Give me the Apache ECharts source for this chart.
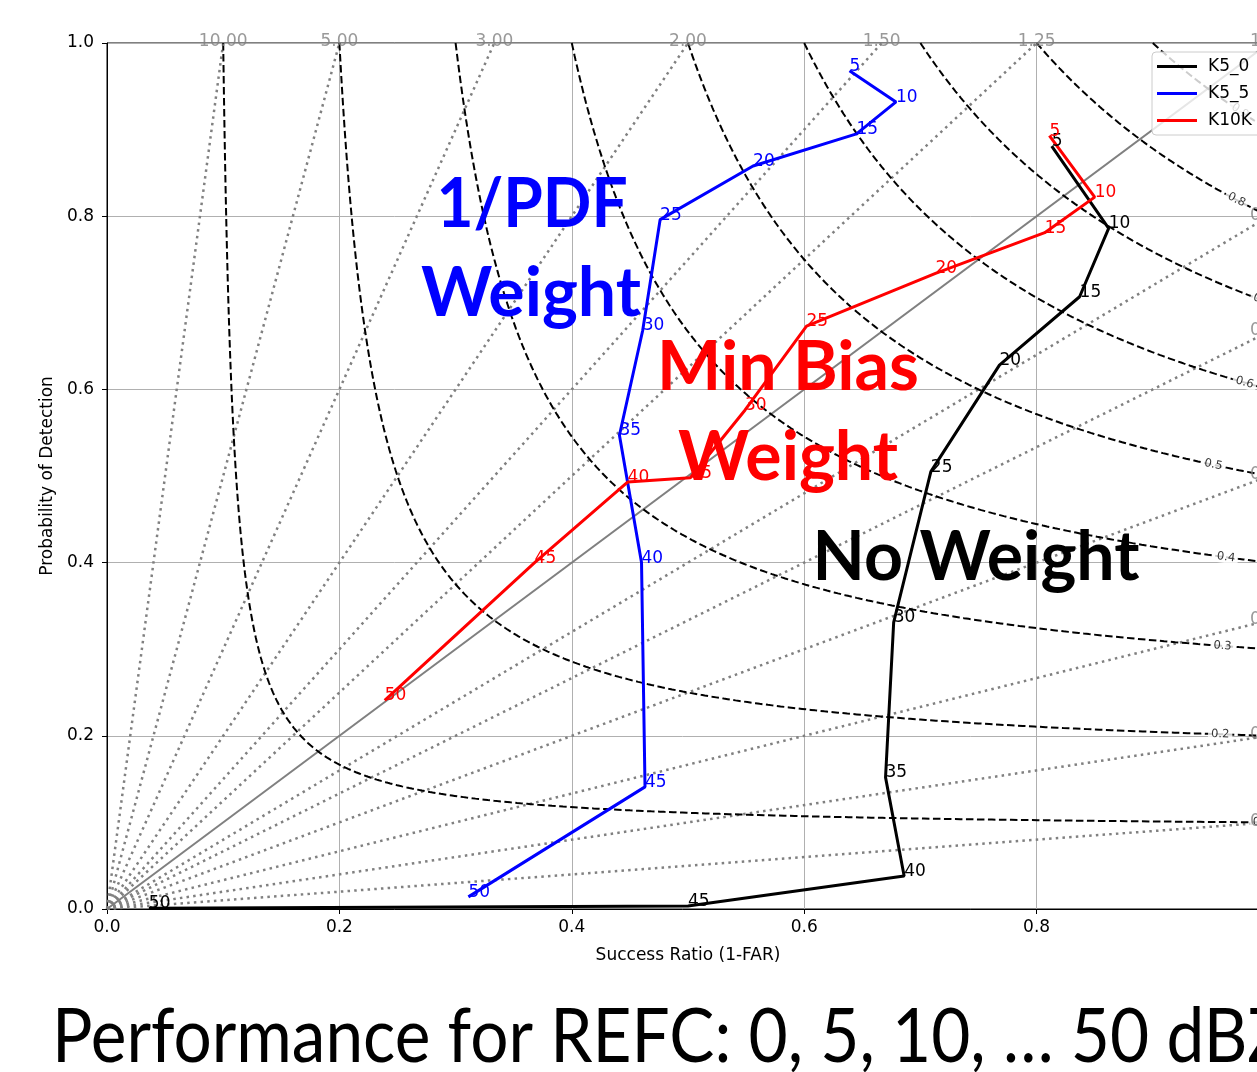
<!DOCTYPE html>
<html><head><meta charset="utf-8">
<script src="https://cdn.jsdelivr.net/npm/echarts@6/dist/echarts.min.js"></script>
<style>html,body{margin:0;padding:0;background:#fff}#c{width:1257px;height:1072px}</style>
</head><body><div id="c"></div>
<script>
// ---- data ----
const thresholds = [5, 10, 15, 20, 25, 30, 35, 40, 45, 50];
const k5_0_sr  = [0.813, 0.862, 0.837, 0.768, 0.709, 0.677, 0.670, 0.686, 0.500, 0.036];
const k5_0_pod = [0.881, 0.786, 0.707, 0.628, 0.505, 0.331, 0.152, 0.038, 0.0035, 0.001];
const k5_5_sr  = [0.639, 0.679, 0.645, 0.556, 0.476, 0.461, 0.441, 0.460, 0.463, 0.311];
const k5_5_pod = [0.968, 0.932, 0.895, 0.858, 0.796, 0.668, 0.547, 0.400, 0.141, 0.014];
const k10k_sr  = [0.811, 0.850, 0.807, 0.713, 0.602, 0.549, 0.502, 0.448, 0.368, 0.239];
const k10k_pod = [0.893, 0.822, 0.781, 0.734, 0.673, 0.576, 0.498, 0.493, 0.400, 0.241];
const seriesNames = ['K5_0', 'K5_5', 'K10K'];
const biasLevels = [0.1, 0.2, 1/3, 0.5, 2/3, 0.8, 1, 1.25, 1.5, 2, 3, 5, 10];
const biasLabels = ['0.10', '0.20', '0.33', '0.50', '0.67', '0.80', '1.00', '1.25', '1.50', '2.00', '3.00', '5.00', '10.00'];
const csiLevels = [0.1, 0.2, 0.3, 0.4, 0.5, 0.6, 0.7, 0.8, 0.9];
const csiLabels = ['0.1', '0.2', '0.3', '0.4', '0.5', '0.6', '0.7', '0.8', '0.9'];
const csiLabelSR = [0.994, 0.958, 0.960, 0.963, 0.952, 0.979, 0.994, 0.972, 0.975];
const axisTickValues = [0, 0.2, 0.4, 0.6, 0.8, 1.0];
const titleText = 'Performance for REFC: 0, 5, 10, \u2026 50 dBZ';

// ---- helpers ----
const FONT = 'DejaVu Sans';
const GRID = {left: 107, top: 43, width: 1162, height: 866};
function csiPod(c, s) { return 1 / (1 / c + 1 - 1 / s); }
function csiCurve(c) {
  const pts = [];
  const n = 400;
  for (let i = 0; i <= n; i++) {
    const t = i / n;
    const s = c + (1 - c) * t * t * t;
    pts.push([s, Math.min(1, csiPod(c, s))]);
  }
  return pts;
}
function zip(a, b) { return a.map((v, i) => [v, b[i]]); }

const series = [];
// bias lines
biasLevels.forEach((b, i) => {
  const end = b <= 1 ? [1, b] : [1 / b, 1];
  series.push({
    type: 'line', data: [[0, 0], end], symbol: 'none', silent: true, z: 1,
    lineStyle: b === 1 ? {color: '#808080', width: 2, type: 'solid'}
                       : {color: '#808080', width: 2.5, type: [2.5, 4.2]},
    animation: false
  });
});
// bias labels
series.push({
  type: 'scatter', symbolSize: 0, silent: true, z: 4,
  data: biasLevels.map((b, i) => ({value: b <= 1 ? [1, b] : [1 / b, 1], name: biasLabels[i]})),
  label: {show: true, position: 'inside', formatter: p => p.name, color: '#808080', fontSize: 17, fontFamily: FONT, offset: [0, -1]},
  clip: false
});
// csi contours
csiLevels.forEach(c => {
  series.push({
    type: 'line', data: csiCurve(c), symbol: 'none', silent: true, z: 1,
    lineStyle: {color: '#000', width: 2, type: [7.5, 3.5]}, animation: false
  });
});
// csi labels
series.push({
  type: 'scatter', symbolSize: 0, silent: true, z: 2,
  data: csiLevels.map((c, i) => {
    const s = csiLabelSR[i];
    const p = csiPod(c, s);
    const slope = -(p * p) / (s * s) * (GRID.height / GRID.width);
    return {
      value: [s, p], name: csiLabels[i],
      label: {rotate: Math.atan(slope) * 180 / Math.PI}
    };
  }),
  label: {show: true, position: 'inside', formatter: p => p.name, color: '#000', fontSize: 11.5, fontFamily: FONT,
          backgroundColor: '#fff', padding: [0, 3]},
  clip: false
});
// data series
const colors = ['#000000', '#0000ff', '#ff0000'];
[[k5_0_sr, k5_0_pod], [k5_5_sr, k5_5_pod], [k10k_sr, k10k_pod]].forEach((d, i) => {
  series.push({
    name: seriesNames[i], type: 'line', data: zip(d[0], d[1]), z: 5,
    symbol: 'circle', symbolSize: 0, showSymbol: true,
    lineStyle: {color: colors[i], width: 3}, itemStyle: {color: colors[i]},
    label: {show: true, position: [0, -13],
            formatter: p => String(thresholds[p.dataIndex]), color: colors[i], fontSize: 17, fontFamily: FONT},
    animation: false
  });
});

const bigFont = 'bold 68px Lato';
const chart = echarts.init(document.getElementById('c'), null, {renderer: 'canvas'});
chart.setOption({
  backgroundColor: '#fff',
  animation: false,
  grid: Object.assign({show: true, borderColor: '#000', borderWidth: 1, backgroundColor: 'transparent',
                       containLabel: false, outerBoundsMode: 'none'}, GRID),
  xAxis: {
    type: 'value', min: 0, max: 1, interval: 0.2,
    name: 'Success Ratio (1-FAR)', nameLocation: 'middle', nameGap: 38,
    nameTextStyle: {fontSize: 17, color: '#000', fontFamily: FONT},
    axisLine: {show: true, lineStyle: {color: '#000', width: 1}},
    axisTick: {show: true, length: 5, lineStyle: {color: '#000'}},
    axisLabel: {fontSize: 17, color: '#000', fontFamily: FONT, margin: 10,
                formatter: v => axisTickValues.some(t => Math.abs(t - v) < 1e-9) ? v.toFixed(1) : ''},
    splitLine: {show: true, lineStyle: {color: '#b0b0b0', width: 1}}
  },
  yAxis: {
    type: 'value', min: 0, max: 1, interval: 0.2,
    name: 'Probability of Detection', nameLocation: 'middle', nameGap: 48,
    nameTextStyle: {fontSize: 17, color: '#000', fontFamily: FONT},
    axisLine: {show: true, lineStyle: {color: '#000', width: 1}},
    axisTick: {show: true, length: 5, lineStyle: {color: '#000'}},
    axisLabel: {fontSize: 17, color: '#000', fontFamily: FONT, margin: 13,
                formatter: v => v.toFixed(1)},
    splitLine: {show: true, lineStyle: {color: '#b0b0b0', width: 1}}
  },
  legend: {
    orient: 'vertical', left: 1152, top: 52,
    data: seriesNames.map(n => ({name: n, icon: 'rect'})),
    itemWidth: 40, itemHeight: 3, itemGap: 10,
    padding: [6, 10, 6, 5],
    backgroundColor: 'rgba(255,255,255,0.8)', borderColor: '#cccccc', borderWidth: 1, borderRadius: 4,
    textStyle: {fontSize: 17, color: '#000', fontFamily: FONT, padding: [0, 0, 0, 6]}
  },
  series: series,
  graphic: [
    {type: 'text', x: 532, y: 205, z: 100, scaleX: 0.94, style: {text: '1/PDF', font: bigFont, fill: '#0000ff', align: 'center', verticalAlign: 'middle'}},
    {type: 'text', x: 531, y: 294, z: 100, style: {text: 'Weight', font: bigFont, fill: '#0000ff', align: 'center', verticalAlign: 'middle'}},
    {type: 'text', x: 788, y: 368, z: 100, style: {text: 'Min Bias', font: bigFont, fill: '#ff0000', align: 'center', verticalAlign: 'middle'}},
    {type: 'text', x: 788, y: 458, z: 100, style: {text: 'Weight', font: bigFont, fill: '#ff0000', align: 'center', verticalAlign: 'middle'}},
    {type: 'text', x: 976, y: 558, z: 100, style: {text: 'No Weight', font: bigFont, fill: '#000000', align: 'center', verticalAlign: 'middle'}},
    {type: 'text', x: 52, y: 1038, z: 100, scaleX: 0.9, style: {text: titleText, font: '75px Lato', fill: '#000', align: 'left', verticalAlign: 'middle'}}
  ]
});
</script></body></html>
